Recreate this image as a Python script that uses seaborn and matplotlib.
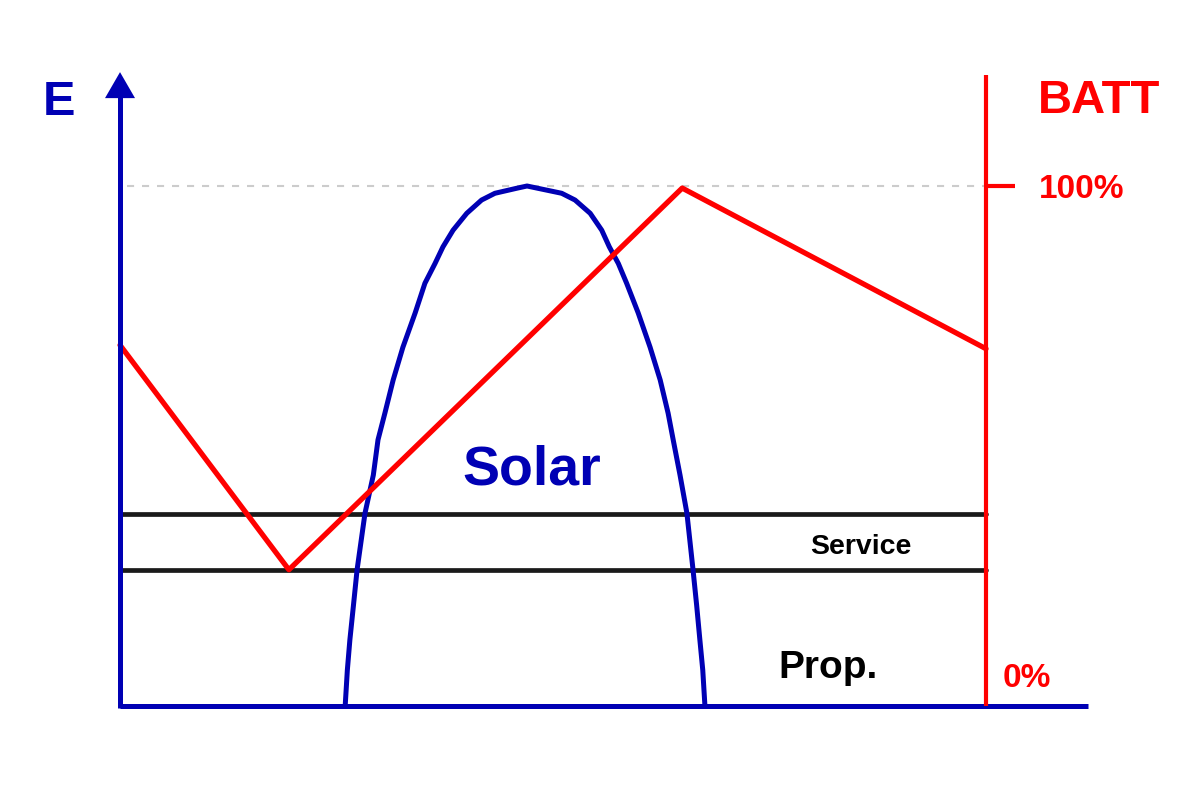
from __future__ import annotations

import matplotlib

matplotlib.use("Agg")  # headless-safe

import matplotlib.pyplot as plt
import pandas as pd
import seaborn as sns

# --- Datos (x = hora del dia, y = energia / bateria en %) ---
solar_hour = [6.24, 6.30, 6.37, 6.47, 6.57, 6.79, 7.02, 7.15, 7.34, 7.57, 7.84, 8.18,
              8.45, 8.73, 8.95, 9.23, 9.61, 10.02, 10.39, 10.99, 11.28, 11.58, 12.24,
              12.61, 13.03, 13.35, 13.56, 13.81, 14.04, 14.36, 14.69, 14.97, 15.19,
              15.33, 15.52, 15.71, 15.88, 15.98, 16.07, 16.15, 16.21]
solar_energy = [0.0, 6.9, 12.7, 19.4, 26.2, 37.1, 44.4, 51.2, 56.3, 62.7, 69.0, 75.6,
                81.3, 85.1, 88.3, 91.5, 94.75, 97.3, 98.6, 99.56, 100.0, 99.56, 98.6,
                97.3, 94.75, 91.5, 88.3, 85.1, 81.3, 75.6, 69.0, 62.7, 56.3,
                51.2, 44.4, 37.1, 26.2, 19.4, 12.7, 6.9, 0.0]

batt_hour = [0.0, 4.68, 15.58, 24.0]
batt_level = [69.4, 26.2, 99.6, 68.7]

load_hour = [0.0, 24.0]
prop_level = 26.2      # consumo de propulsion
service_level = 36.9   # consumo de servicio

BLUE = "#0000b4"
RED = "#ff0000"
BLACK = "#1a1a1a"

sns.set_theme(style="white")
plt.rcParams["font.family"] = ["Liberation Sans", "DejaVu Sans"]

fig = plt.figure(figsize=(12, 8), dpi=100)
ax = fig.add_axes([0, 0, 1, 1])
# 36.083 px por hora, 5.2 px por unidad de energia
ax.set_xlim(-3.326, 29.93)
ax.set_ylim(-18.08, 135.77)
ax.axis("off")

# Linea de referencia 100 %
ax.plot([0.2, 24.0], [100, 100], color="#cccccc", lw=1.5, linestyle=(0, (3.4, 3.8)), zorder=1)

# Niveles de consumo
loads = pd.DataFrame({"hour": load_hour * 2,
                      "level": [prop_level] * 2 + [service_level] * 2,
                      "name": ["Prop."] * 2 + ["Service"] * 2})
sns.lineplot(data=loads, x="hour", y="level", units="name", estimator=None,
             color=BLACK, lw=3.4, ax=ax, zorder=2)

# Produccion solar
solar = pd.DataFrame({"hour": solar_hour, "energy": solar_energy})
sns.lineplot(data=solar, x="hour", y="energy", sort=False, estimator=None,
             color=BLUE, lw=3.6, solid_joinstyle="round", ax=ax, zorder=3)

# Estado de la bateria
batt = pd.DataFrame({"hour": batt_hour, "level": batt_level})
sns.lineplot(data=batt, x="hour", y="level", sort=False, estimator=None,
             color=RED, lw=3.8, ax=ax, zorder=4)

# Ejes dibujados a mano
ax.plot([0, 26.83], [0, 0], color=BLUE, lw=3.6, solid_capstyle="butt", zorder=5)
ax.plot([0, 0], [-0.35, 117.2], color=BLUE, lw=3.6, solid_capstyle="butt", zorder=5)
ax.fill([-0.416, 0.416, 0.0], [116.9, 116.9, 121.9], color=BLUE, lw=0, zorder=5)
ax.plot([24, 24], [0, 121.35], color=RED, lw=3.0, solid_capstyle="butt", zorder=5)
ax.plot([24, 24.80], [100, 100], color=RED, lw=3.0, solid_capstyle="butt", zorder=5)

# Textos
ax.text(-1.69, 113.65, "E", color=BLUE, fontsize=35, fontweight="bold", ha="center", va="baseline")
ax.text(27.13, 114.0, "BATT", color=RED, fontsize=34, fontweight="bold", ha="center", va="baseline")
ax.text(26.66, 97.7, "100%", color=RED, fontsize=24, fontweight="bold", ha="center", va="baseline")
ax.text(25.14, 3.65, "0%", color=RED, fontsize=24, fontweight="bold", ha="center", va="baseline")
ax.text(11.42, 42.5, "Solar", color=BLUE, fontsize=40, fontweight="bold", ha="center", va="baseline")
ax.text(20.54, 29.2, "Service", color="black", fontsize=20.5, fontweight="bold", ha="center", va="baseline")
ax.text(19.62, 5.4, "Prop.", color="black", fontsize=28, fontweight="bold", ha="center", va="baseline")

fig.savefig("out.png", dpi=100, facecolor="white")
plt.close(fig)
